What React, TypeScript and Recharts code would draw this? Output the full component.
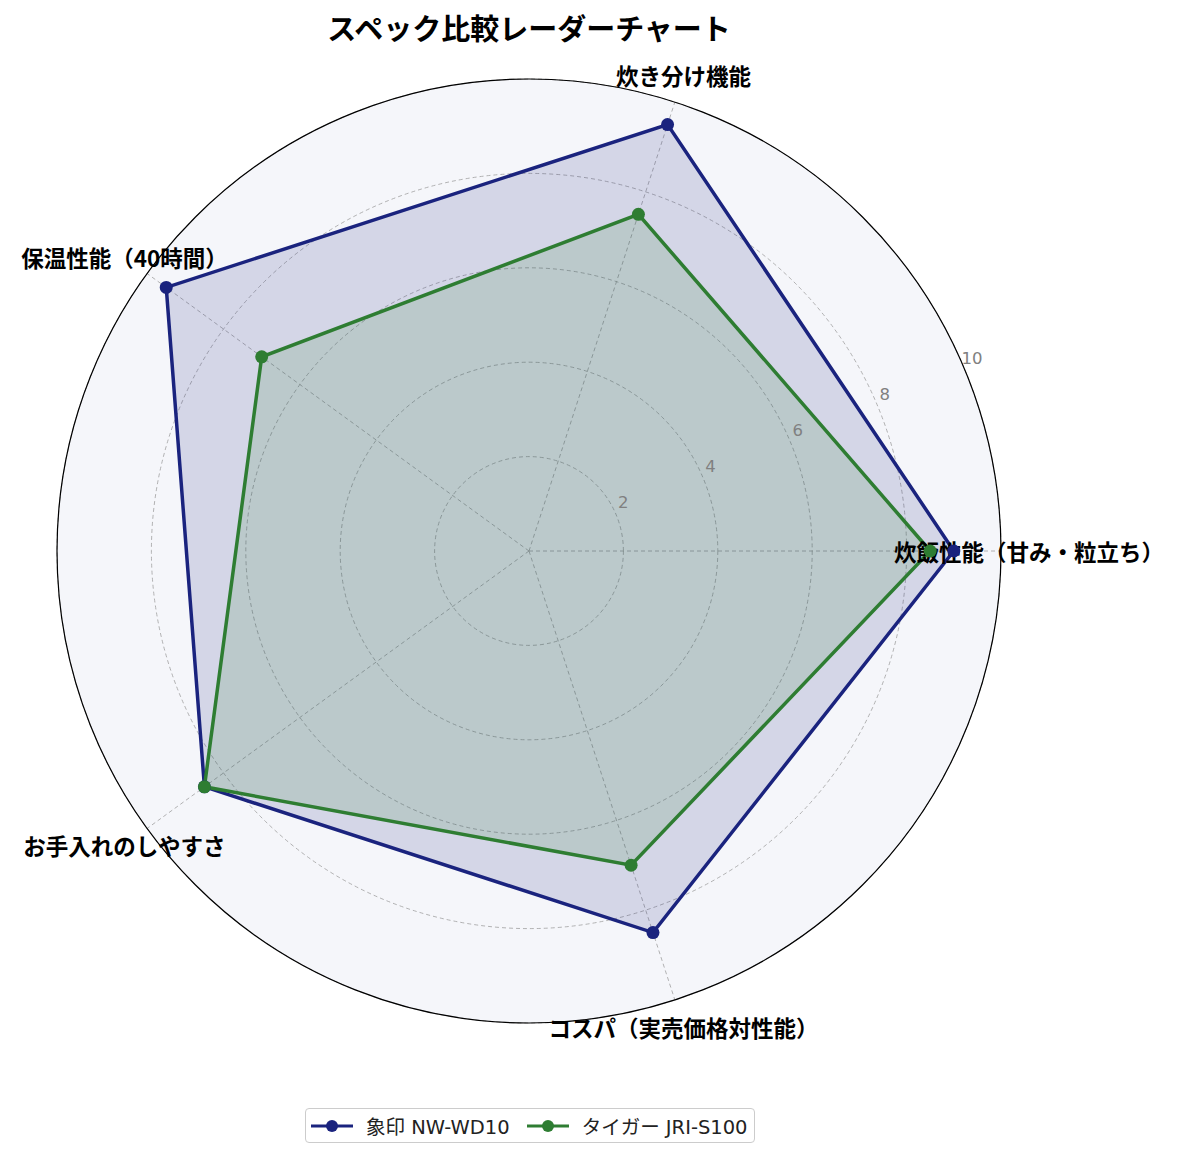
import React from "react";
import { RadarChart, Radar, PolarGrid, PolarAngleAxis, PolarRadiusAxis } from "recharts";

const categories = [
  "炊飯性能（甘み・粒立ち）",
  "炊き分け機能",
  "保温性能（40時間）",
  "お手入れのしやすさ",
  "コスパ（実売価格対性能）",
];
const zojirushi = [9.0, 9.5, 9.5, 8.5, 8.5];
const tiger = [8.5, 7.5, 7.0, 8.5, 7.0];
const seriesNames = ["象印 NW-WD10", "タイガー JRI-S100"];
const radiusTicks = [0, 2, 4, 6, 8, 10];

const NAVY = "#1a237e";
const GREEN = "#2e7d32";
const FONT = "'DejaVu Sans', 'Noto Sans CJK JP', sans-serif";
const JFONT = "'Noto Sans CJK JP', 'Noto Sans', sans-serif";

const CX = 529;
const CY = 551;
const R = 472;
const LABEL_R = 500;

const data = categories.map((name, i) => ({
  name,
  zojirushi: zojirushi[i],
  tiger: tiger[i],
}));

// place each category label on its own spoke (first category at 3 o'clock, counter-clockwise)
const AngleTick = (props: any) => {
  const { payload } = props;
  const i = categories.indexOf(payload.value);
  const a = ((360 / categories.length) * i * Math.PI) / 180;
  const x = CX + LABEL_R * Math.cos(a);
  const y = CY - LABEL_R * Math.sin(a);
  return (
    <text
      x={x}
      y={y}
      textAnchor="middle"
      dominantBaseline="central"
      fontSize={22.5}
      fontWeight="bold"
      fill="#000"
      fontFamily={JFONT}
    >
      {payload.value}
    </text>
  );
};

const RadiusTick = (props: any) => {
  const { x, y, payload } = props;
  if (payload.value === 0) return null;
  return (
    <text
      x={x + 7}
      y={y - 12}
      textAnchor="middle"
      dominantBaseline="central"
      fontSize={16.5}
      fill="#808080"
      fontFamily={FONT}
    >
      {payload.value}
    </text>
  );
};

const LegendBox = () => (
  <div
    style={{
      position: "absolute",
      left: 305,
      top: 1108,
      width: 450,
      height: 35,
      border: "1px solid #cccccc",
      borderRadius: 4,
      background: "#fff",
      display: "flex",
      alignItems: "center",
      fontFamily: FONT,
      fontSize: 19.5,
      color: "#222",
      boxSizing: "border-box",
      whiteSpace: "nowrap",
    }}
  >
    {[NAVY, GREEN].map((c, i) => (
      <div key={i} style={{ display: "flex", alignItems: "center", marginLeft: i === 0 ? 5 : 17 }}>
        <svg width={42} height={14}>
          <line x1={0} y1={7} x2={42} y2={7} stroke={c} strokeWidth={3} />
          <circle cx={21} cy={7} r={6} fill={c} />
        </svg>
        <span style={{ marginLeft: 13 }}>{seriesNames[i]}</span>
      </div>
    ))}
  </div>
);

export default function App() {
  return (
    <div style={{ position: "absolute", left: 0, top: 0, width: 1183, height: 1159, background: "#fff" }}>
      <svg width={1183} height={1159} style={{ position: "absolute", left: 0, top: 0 }}>
        <circle cx={CX} cy={CY} r={R} fill="#f5f6fa" stroke="none" />
      </svg>
      <div
        style={{
          position: "absolute",
          left: 0,
          width: 1058,
          top: 6,
          textAlign: "center",
          fontFamily: JFONT,
          fontWeight: "bold",
          fontSize: 29,
          color: "#000",
        }}
      >
        スペック比較レーダーチャート
      </div>
      <RadarChart
        width={1183}
        height={1159}
        data={data}
        cx={CX}
        cy={CY}
        outerRadius={R}
        startAngle={-72}
        endAngle={288}
        margin={{ top: 0, right: 0, bottom: 0, left: 0 }}
        style={{ position: "absolute", left: 0, top: 0 }}
      >
        <PolarGrid gridType="circle" stroke="#a0a0a0" strokeDasharray="4 3" strokeWidth={0.8} />
        <circle cx={CX} cy={CY} r={R} fill="none" stroke="#000" strokeWidth={1.2} />
        <PolarAngleAxis dataKey="name" tick={<AngleTick />} tickLine={false} axisLine={false} tickSize={28} />
        <Radar
          name={seriesNames[0]}
          dataKey="zojirushi"
          stroke={NAVY}
          strokeWidth={3.5}
          fill={NAVY}
          fillOpacity={0.15}
          dot={{ r: 6.5, fill: NAVY, stroke: NAVY, strokeWidth: 0, fillOpacity: 1 }}
          isAnimationActive={false}
        />
        <Radar
          name={seriesNames[1]}
          dataKey="tiger"
          stroke={GREEN}
          strokeWidth={3.5}
          fill={GREEN}
          fillOpacity={0.15}
          dot={{ r: 6.5, fill: GREEN, stroke: GREEN, strokeWidth: 0, fillOpacity: 1 }}
          isAnimationActive={false}
        />
        <PolarRadiusAxis
          domain={[0, 10]}
          tickCount={6}
          ticks={radiusTicks as any}
          angle={22.5}
          axisLine={false}
          tickLine={false}
          tick={<RadiusTick />}
          {...({ zIndex: 1000 } as any)}
        />
      </RadarChart>
      <LegendBox />
    </div>
  );
}
